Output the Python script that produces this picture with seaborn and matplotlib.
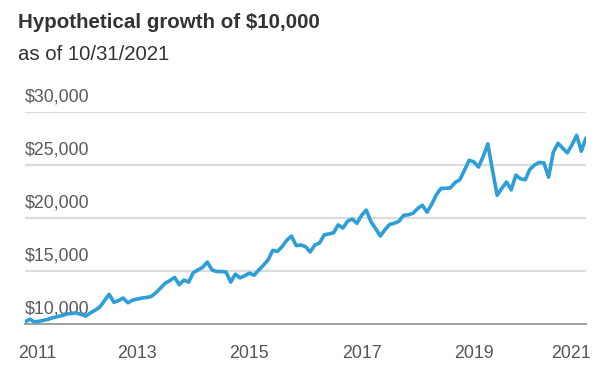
import numpy as np
import pandas as pd
import matplotlib
matplotlib.use("Agg")
import matplotlib.pyplot as plt
import matplotlib.transforms as mtransforms
import seaborn as sns

# monthly values of the $10,000 investment, 10/2011 .. 10/2021
values = [
    10200, 10450, 10200, 10250, 10350, 10450, 10600, 10700, 10800, 10950,
    11000, 11050, 10900, 10750, 11050, 11300, 11600, 12200, 12800, 12050,
    12200, 12450, 12000, 12250, 12350, 12450, 12500, 12600, 12950, 13400,
    13850, 14100, 14400, 13700, 14150, 13950, 14850, 15100, 15350, 15850,
    15100, 14950, 14950, 14900, 13950, 14700, 14350, 14550, 14800, 14600,
    15100, 15550, 16050, 16950, 16850, 17300, 17900, 18300, 17400, 17450,
    17300, 16800, 17450, 17650, 18400, 18500, 18600, 19350, 19050, 19700,
    19900, 19500, 20250, 20750, 19650, 19000, 18300, 18900, 19400, 19500,
    19700, 20250, 20300, 20450, 20900, 21200, 20550, 21300, 22200, 22800,
    22800, 22850, 23350, 23600, 24500, 25450, 25300, 24800, 25800, 27000,
    24500, 22150, 22800, 23400, 22650, 24050, 23700, 23600, 24600, 25000,
    25250, 25200, 23850, 26200, 27050, 26600, 26150, 26900, 27800, 26300,
    27550,
]
years = [2011 + i / 12 for i in range(len(values))]
year_ticks = list(range(2011, 2022))
year_labels = [str(y) if (y - 2011) % 2 == 0 else "" for y in year_ticks]
y_ticks = [10000, 15000, 20000, 25000, 30000]

df = pd.DataFrame({"year": years, "value": values})

sns.set_style("white")
plt.rcParams["font.family"] = ["Liberation Sans", "DejaVu Sans"]

fig = plt.figure(figsize=(6.01, 3.73), dpi=100)
ax = fig.add_axes([25 / 601, 49 / 373, 561 / 601, 212 / 373])

# grid lines
for v in y_ticks[1:]:
    ax.axhline(v, color="#dcdcdc", lw=1.6, zorder=0)

sns.lineplot(data=df, x="year", y="value", ax=ax, color="#2e9ed8", lw=2.6,
             zorder=3)

ax.set_xlim(2011, 2021)
ax.set_ylim(10000, 30000)
ax.set_xlabel("")
ax.set_ylabel("")

ax.set_xticks(year_ticks)
ax.set_xticklabels(year_labels)
ax.tick_params(axis="x", direction="out", length=5, width=1.2, color="#a0a0a0",
               labelsize=12.8, labelcolor="#555555", pad=10)
ax.set_yticks([])

# first and last year labels are pushed inside the chart
labels = ax.get_xticklabels()
labels[0].set_transform(labels[0].get_transform()
                        + mtransforms.ScaledTranslation(0.12, 0, fig.dpi_scale_trans))
labels[-1].set_transform(labels[-1].get_transform()
                         + mtransforms.ScaledTranslation(-0.15, 0, fig.dpi_scale_trans))

for side in ["top", "right", "left"]:
    ax.spines[side].set_visible(False)
ax.spines["bottom"].set_color("#a0a0a0")
ax.spines["bottom"].set_linewidth(1.4)

# y labels sit above their grid lines, on the left
trans = mtransforms.blended_transform_factory(ax.transAxes, ax.transData)
for v in y_ticks:
    ax.annotate(f"${v:,}", xy=(0, v), xycoords=trans, xytext=(0, 5),
                textcoords="offset points", ha="left", va="bottom",
                fontsize=12.8, color="#5a5a5a", zorder=2)

fig.text(18 / 601, 1 - 23 / 373, "Hypothetical growth of $10,000",
         fontsize=14.8, fontweight="bold", color="#333333", va="center")
fig.text(18 / 601, 1 - 55 / 373, "as of 10/31/2021",
         fontsize=14.7, color="#333333", va="center")

fig.savefig("out.png", dpi=100)
